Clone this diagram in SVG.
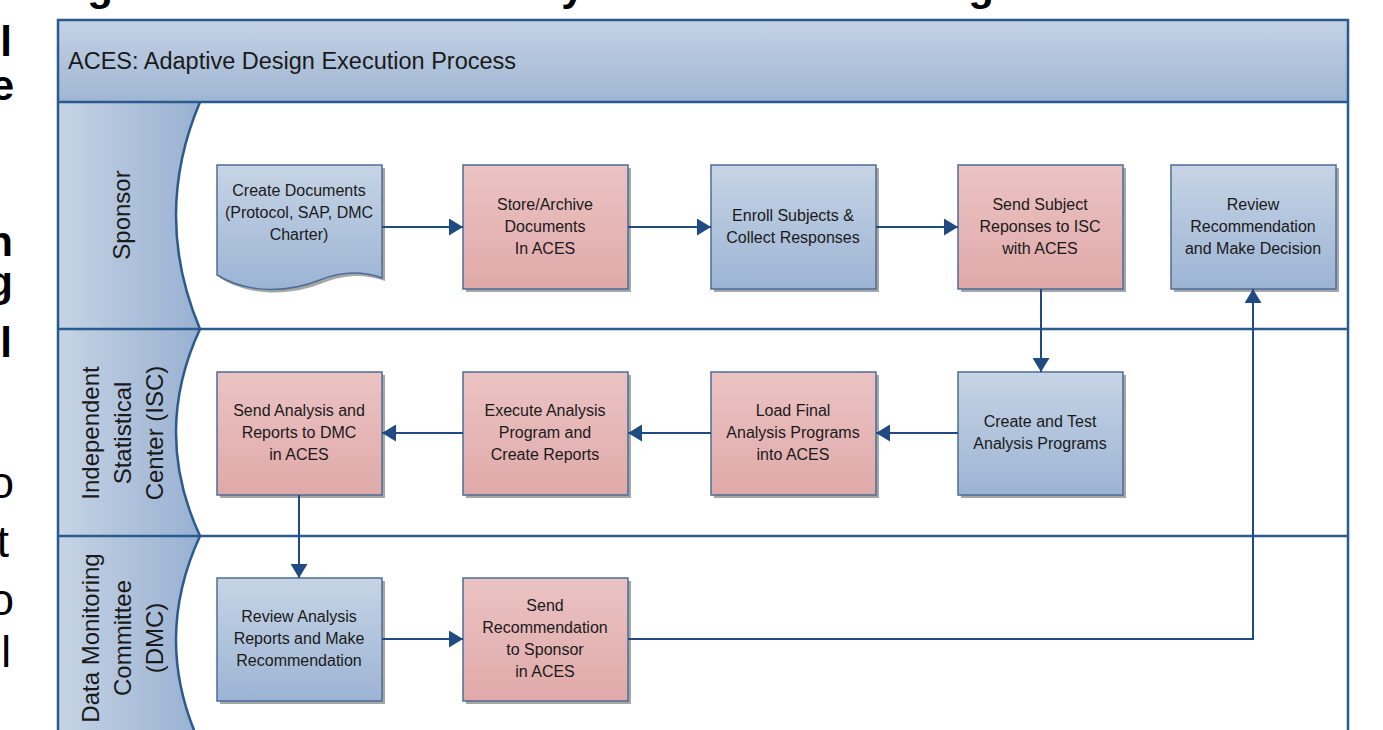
<svg xmlns="http://www.w3.org/2000/svg" width="1383" height="730" viewBox="0 0 1383 730">
<defs>
<linearGradient id="gBlue" x1="0" y1="0" x2="0" y2="1"><stop offset="0" stop-color="#c6d4e5"/><stop offset="1" stop-color="#9cb4d4"/></linearGradient>
<linearGradient id="gPink" x1="0" y1="0" x2="0" y2="1"><stop offset="0" stop-color="#ebc3c3"/><stop offset="1" stop-color="#e0a9a9"/></linearGradient>
<linearGradient id="gHead" x1="0" y1="0" x2="0" y2="1"><stop offset="0" stop-color="#c4d2e4"/><stop offset="1" stop-color="#9fb6d4"/></linearGradient>
<linearGradient id="gLane" x1="0" y1="0" x2="1" y2="0"><stop offset="0" stop-color="#c6d4e5"/><stop offset="1" stop-color="#98b0d1"/></linearGradient>
<marker id="arr" viewBox="0 0 14 17" refX="14" refY="8.5" markerWidth="7" markerHeight="8.5" markerUnits="strokeWidth" orient="auto"><path d="M0,0 L14,8.5 L0,17 Z" fill="#1f4b82"/></marker>
</defs>
<style>
.node{stroke:#4d6d97;stroke-width:1.5}
.blue{fill:url(#gBlue)}
.pink{fill:url(#gPink)}
.shadow{fill:#a6a6a6}
.t{font-family:"Liberation Sans",Arial,sans-serif;font-size:16px;fill:#1a1a1a;text-anchor:middle}
.lane{font-family:"Liberation Sans",Arial,sans-serif;font-size:24px;fill:#1a1a1a;text-anchor:middle}
.line{stroke:#2b5a8e;stroke-width:2.5;fill:none}
.conn{stroke:#1f4b82;stroke-width:2;fill:none}
.frag{font-family:"Liberation Sans",Arial,sans-serif;font-size:42px;font-weight:bold;fill:#000}
.frag2{font-family:"Liberation Sans",Arial,sans-serif;font-size:44px;fill:#000}
</style>

<g id="fragments">
<text class="frag" x="100" y="0" text-anchor="middle">g</text>
<text class="frag" x="573" y="0" text-anchor="middle">y</text>
<text class="frag" x="981" y="0" text-anchor="middle">g</text>
<text class="frag" x="12" y="56" text-anchor="end">l</text>
<text class="frag" x="14" y="100" text-anchor="end">e</text>
<text class="frag" x="13" y="256" text-anchor="end">n</text>
<text class="frag" x="13" y="296" text-anchor="end">g</text>
<text class="frag" x="12" y="357" text-anchor="end">l</text>
<text class="frag2" x="14" y="498" text-anchor="end">o</text>
<text class="frag2" x="9" y="557" text-anchor="end">t</text>
<text class="frag2" x="14" y="615" text-anchor="end">o</text>
<text class="frag2" x="11" y="667" text-anchor="end">l</text>
</g>

<g id="pool">
<rect x="58" y="20" width="1290" height="82" fill="url(#gHead)"/>
<text x="68" y="69" font-family="'Liberation Sans',Arial,sans-serif" font-size="23.5" fill="#1a1a1a">ACES: Adaptive Design Execution Process</text>
</g>

<g id="lane-sponsor">
<path d="M58,102 L200,102 Q152,215.5 200,329 L58,329 Z" fill="url(#gLane)"/>
<path d="M200,102 Q152,215.5 200,329" class="line"/>
<text class="lane" transform="translate(130,215) rotate(-90)">Sponsor</text>
</g>
<g id="lane-isc">
<path d="M58,329 L200,329 Q152,432.5 200,536 L58,536 Z" fill="url(#gLane)"/>
<path d="M200,329 Q152,432.5 200,536" class="line"/>
<text class="lane" transform="translate(99,433) rotate(-90)">Independent</text>
<text class="lane" transform="translate(131,433) rotate(-90)">Statistical</text>
<text class="lane" transform="translate(163,433) rotate(-90)">Center (ISC)</text>
</g>
<g id="lane-dmc">
<path d="M58,536 L200,536 Q152,640 200,744 L58,744 Z" fill="url(#gLane)"/>
<path d="M200,536 Q152,640 200,744" class="line"/>
<text class="lane" transform="translate(99,638) rotate(-90)">Data Monitoring</text>
<text class="lane" transform="translate(131,638) rotate(-90)">Committee</text>
<text class="lane" transform="translate(163,638) rotate(-90)">(DMC)</text>
</g>
<g id="frame">
<line x1="58" y1="102" x2="1348" y2="102" class="line"/>
<line x1="58" y1="329" x2="1348" y2="329" class="line"/>
<line x1="58" y1="536" x2="1348" y2="536" class="line"/>
<rect x="58" y="20" width="1290" height="730" class="line"/>
</g>

<g id="n1">
<path class="shadow" d="M220,168 L385,168 L385,281 C368,275 348,273 323,283 C293,295 253,298 220,278 Z"/>
<path class="node blue" d="M217,165 L382,165 L382,278 C365,272 345,270 320,280 C290,292 250,295 217,275 Z"/>
<text class="t" x="299" y="196">Create Documents</text>
<text class="t" x="299" y="218">(Protocol, SAP, DMC</text>
<text class="t" x="299" y="240">Charter)</text>
</g>
<g id="n2">
<rect class="shadow" x="466" y="168" width="165" height="124"/>
<rect class="node pink" x="463" y="165" width="165" height="124"/>
<text class="t" x="545" y="210">Store/Archive</text>
<text class="t" x="545" y="232">Documents</text>
<text class="t" x="545" y="254">In ACES</text>
</g>
<g id="n3">
<rect class="shadow" x="714" y="168" width="165" height="124"/>
<rect class="node blue" x="711" y="165" width="165" height="124"/>
<text class="t" x="793" y="221">Enroll Subjects &amp;</text>
<text class="t" x="793" y="243">Collect Responses</text>
</g>
<g id="n4">
<rect class="shadow" x="961" y="168" width="165" height="124"/>
<rect class="node pink" x="958" y="165" width="165" height="124"/>
<text class="t" x="1040" y="210">Send Subject</text>
<text class="t" x="1040" y="232">Reponses to ISC</text>
<text class="t" x="1040" y="254">with ACES</text>
</g>
<g id="n5">
<rect class="shadow" x="1174" y="168" width="165" height="124"/>
<rect class="node blue" x="1171" y="165" width="165" height="124"/>
<text class="t" x="1253" y="210">Review</text>
<text class="t" x="1253" y="232">Recommendation</text>
<text class="t" x="1253" y="254">and Make Decision</text>
</g>
<g id="n6">
<rect class="shadow" x="220" y="375" width="165" height="123"/>
<rect class="node pink" x="217" y="372" width="165" height="123"/>
<text class="t" x="299" y="416">Send Analysis and</text>
<text class="t" x="299" y="438">Reports to DMC</text>
<text class="t" x="299" y="460">in ACES</text>
</g>
<g id="n7">
<rect class="shadow" x="466" y="375" width="165" height="123"/>
<rect class="node pink" x="463" y="372" width="165" height="123"/>
<text class="t" x="545" y="416">Execute Analysis</text>
<text class="t" x="545" y="438">Program and</text>
<text class="t" x="545" y="460">Create Reports</text>
</g>
<g id="n8">
<rect class="shadow" x="714" y="375" width="165" height="123"/>
<rect class="node pink" x="711" y="372" width="165" height="123"/>
<text class="t" x="793" y="416">Load Final</text>
<text class="t" x="793" y="438">Analysis Programs</text>
<text class="t" x="793" y="460">into ACES</text>
</g>
<g id="n9">
<rect class="shadow" x="961" y="375" width="165" height="123"/>
<rect class="node blue" x="958" y="372" width="165" height="123"/>
<text class="t" x="1040" y="427">Create and Test</text>
<text class="t" x="1040" y="449">Analysis Programs</text>
</g>
<g id="n10">
<rect class="shadow" x="220" y="581" width="165" height="123"/>
<rect class="node blue" x="217" y="578" width="165" height="123"/>
<text class="t" x="299" y="622">Review Analysis</text>
<text class="t" x="299" y="644">Reports and Make</text>
<text class="t" x="299" y="666">Recommendation</text>
</g>
<g id="n11">
<rect class="shadow" x="466" y="581" width="165" height="123"/>
<rect class="node pink" x="463" y="578" width="165" height="123"/>
<text class="t" x="545" y="611">Send</text>
<text class="t" x="545" y="633">Recommendation</text>
<text class="t" x="545" y="655">to Sponsor</text>
<text class="t" x="545" y="677">in ACES</text>
</g>

<g id="connectors">
<line class="conn" x1="382" y1="227" x2="463" y2="227" marker-end="url(#arr)"/>
<line class="conn" x1="628" y1="227" x2="711" y2="227" marker-end="url(#arr)"/>
<line class="conn" x1="876" y1="227" x2="958" y2="227" marker-end="url(#arr)"/>
<line class="conn" x1="1041" y1="289" x2="1041" y2="372" marker-end="url(#arr)"/>
<line class="conn" x1="958" y1="433" x2="876" y2="433" marker-end="url(#arr)"/>
<line class="conn" x1="711" y1="433" x2="628" y2="433" marker-end="url(#arr)"/>
<line class="conn" x1="463" y1="433" x2="382" y2="433" marker-end="url(#arr)"/>
<line class="conn" x1="299" y1="495" x2="299" y2="578" marker-end="url(#arr)"/>
<line class="conn" x1="382" y1="639" x2="463" y2="639" marker-end="url(#arr)"/>
<polyline class="conn" points="628,639 1253,639 1253,289" marker-end="url(#arr)"/>
</g>
</svg>
